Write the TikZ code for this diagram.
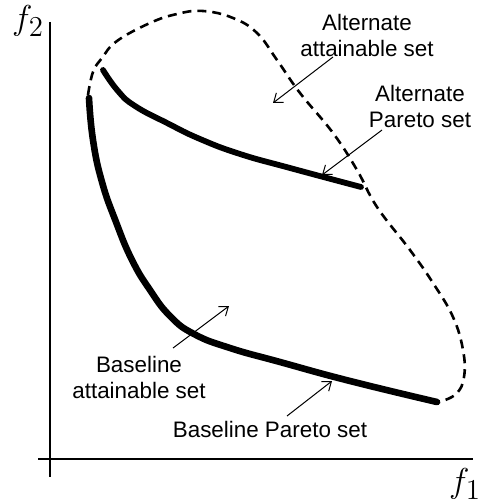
\documentclass[tikz,border=0pt]{standalone}
\usepackage{fontspec}
\setmainfont{Liberation Sans}
\usepackage{amsmath}
\usetikzlibrary{arrows.meta}

\tikzset{
    pareto/.style={line width=3.3pt, line cap=round, line join=round},
    boundary/.style={line width=1.3pt, dash pattern=on 4.5pt off 3pt},
    pointer/.style={line width=0.5pt, -{Straight Barb[length=4pt,width=6pt]}},
    caption/.style={align=center, inner sep=0pt, font=\fontsize{11.2}{13}\selectfont},
    axislabel/.style={inner sep=0pt, font=\fontsize{19}{22}\selectfont}
}

\begin{document}
\begin{tikzpicture}[x=0.5pt, y=-0.5pt]
    \useasboundingbox (0,0) rectangle (483,502);

    % Draw axes
    \coordinate (ytop) at (50,22);
    \coordinate (ybot) at (50,477);
    \coordinate (xleft) at (38,459);
    \coordinate (xright) at (473,459);
    \draw[line width=0.8pt] (ytop) -- (ybot);
    \draw[line width=0.8pt] (xleft) -- (xright);
    \node[axislabel] (f2) at (28,21) {$f_2$};
    \node[axislabel] (f1) at (465,484) {$f_1$};

    % Draw alternate attainable set
    \draw[boundary] plot[smooth, tension=0.7] coordinates {
        (88,95) (93,72) (102,58) (117,41) (150,23) (177,14) (203,11)
        (233,18) (257,33) (277,60) (300,93) (333,133) (357,170)
        (377,207) (410,250) (433,283) (453,317) (463,350) (464,377)
        (456,394) (439,402)};

    % Draw Pareto sets
    \draw[pareto] plot[smooth, tension=0.8] coordinates {
        (89,98) (93,140) (102,182) (116,222) (132,260) (150,290)
        (170,316) (194,334) (230,348) (280,362) (350,381) (437,402)};
    \draw[pareto, line width=2.9pt] plot[smooth, tension=0.8] coordinates {
        (103,70) (118,91) (135,106) (167,123) (200,139) (240,154)
        (290,168) (361,187)};

    % Labels
    \node[caption] (altatt) at (367,35) {Alternate\\attainable set};
    \node[caption] (altpar) at (420,106) {Alternate\\Pareto set};
    \node[caption] (baseatt) at (139,377) {Baseline\\attainable set};
    \node[caption] (basepar) at (270,429) {Baseline Pareto set};

    % Draw pointers
    \coordinate (altattfrom) at (333,57);
    \coordinate (altattto) at (273,103);
    \coordinate (altparfrom) at (382,130);
    \coordinate (altparto) at (322,175);
    \coordinate (baseattfrom) at (173,348);
    \coordinate (baseattto) at (229,306);
    \coordinate (baseparfrom) at (287,416);
    \coordinate (baseparto) at (332,381);
    \draw[pointer] (altattfrom) -- (altattto);
    \draw[pointer] (altparfrom) -- (altparto);
    \draw[pointer] (baseattfrom) -- (baseattto);
    \draw[pointer] (baseparfrom) -- (baseparto);
\end{tikzpicture}
\end{document}
